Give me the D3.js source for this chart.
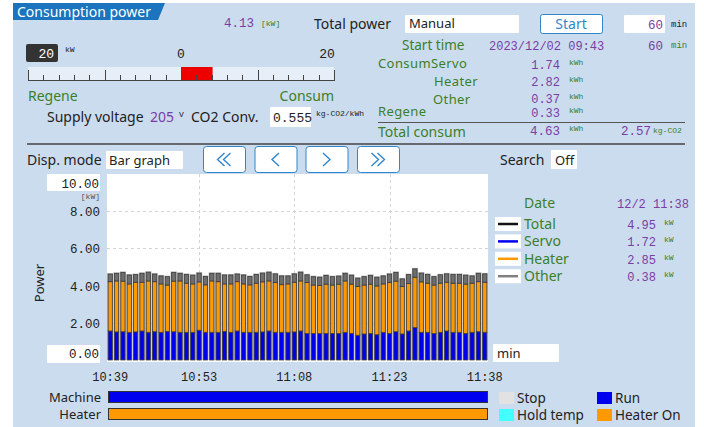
<!DOCTYPE html>
<html>
<head>
<meta charset="utf-8">
<script src="https://cdn.jsdelivr.net/npm/d3@7"></script>
<style>
	body { margin: 0; background: #fff; }
</style>
</head>
<body>
<script>
// per-minute power (kW), 10:39 .. 11:38
const servo = [
	1.56, 1.51, 1.52, 1.49, 1.51, 1.56, 1.49, 1.52, 1.49, 1.54,
	1.52, 1.49, 1.49, 1.49, 1.60, 1.49, 1.49, 1.49, 1.54, 1.49,
	1.56, 1.49, 1.49, 1.49, 1.51, 1.56, 1.49, 1.49, 1.49, 1.51,
	1.56, 1.43, 1.43, 1.42, 1.43, 1.43, 1.43, 1.49, 1.43, 1.33,
	1.40, 1.43, 1.36, 1.49, 1.43, 1.52, 1.40, 1.56, 1.74, 1.49,
	1.49, 1.43, 1.49, 1.56, 1.49, 1.49, 1.43, 1.49, 1.52, 1.49,
];
const heater = [
	2.65, 2.74, 2.72, 2.60, 2.67, 2.62, 2.76, 2.69, 2.60, 2.49,
	2.72, 2.76, 2.64, 2.60, 2.60, 2.55, 2.76, 2.72, 2.55, 2.60,
	2.65, 2.60, 2.55, 2.64, 2.69, 2.69, 2.67, 2.56, 2.60, 2.67,
	2.69, 2.74, 2.60, 2.58, 2.65, 2.60, 2.65, 2.76, 2.65, 2.62,
	2.63, 2.65, 2.62, 2.60, 2.74, 2.72, 2.55, 2.56, 2.71, 2.71,
	2.64, 2.60, 2.64, 2.62, 2.64, 2.64, 2.65, 2.64, 2.69, 2.69,
];
const other = [
	0.41, 0.41, 0.47, 0.48, 0.41, 0.48, 0.47, 0.41, 0.43, 0.45,
	0.47, 0.41, 0.47, 0.47, 0.47, 0.45, 0.41, 0.45, 0.48, 0.48,
	0.41, 0.48, 0.45, 0.47, 0.47, 0.47, 0.47, 0.47, 0.43, 0.45,
	0.47, 0.41, 0.45, 0.45, 0.47, 0.45, 0.43, 0.41, 0.48, 0.45,
	0.45, 0.47, 0.47, 0.43, 0.45, 0.47, 0.41, 0.47, 0.45, 0.47,
	0.47, 0.45, 0.45, 0.45, 0.47, 0.47, 0.48, 0.39, 0.45, 0.45,
];
const tickIndex = [0, 14, 29, 44, 59];
const yTicks = [2, 4, 6, 8];

const summaryLabels = ["ConsumServo", "Heater", "Other", "Regene"];
const summaryValues = ["1.74", "2.82", "0.37", "0.33"];
const legendNames = ["Total", "Servo", "Heater", "Other"];
const legendValues = ["4.95", "1.72", "2.85", "0.38"];
const gaugeValue = 4.13;

const colors = {
	panel: "#cbdcef",
	tab: "#1b74bd",
	green: "#3b7f27",
	purple: "#7a3ca4",
	text: "#222",
	btn: "#2f86cc",
	servo: "#0000ee",
	heater: "#ff9900",
	other: "#6e6e6e",
	total: "#111",
};
const SANS = "'Noto Sans', sans-serif";
const MONO = "'Liberation Mono', monospace";

const svg = d3.select("body").append("svg")
	.attr("width", 704)
	.attr("height", 427);

function label(x, y, str, o = {}) {
	return svg.append("text")
		.attr("x", x)
		.attr("y", y)
		.attr("text-anchor", o.anchor || "start")
		.attr("font-family", o.mono ? MONO : SANS)
		.attr("font-size", o.size || 14)
		.attr("fill", o.color || colors.text)
		.text(str);
}
function box(x, y, w, h, fill = "#fff", stroke = "none", rx = 1) {
	return svg.append("rect")
		.attr("x", x).attr("y", y).attr("width", w).attr("height", h)
		.attr("rx", rx)
		.attr("fill", fill)
		.attr("stroke", stroke);
}
const unit = (x, y, str, color = colors.green, size = 8) => label(x, y, str, { mono: true, size, color });

// panel + title tab
box(13, 3, 682, 424, colors.panel, "none", 0);
svg.append("path").attr("d", "M13,3 H165 L158,20 H13 Z").attr("fill", colors.tab);
label(17, 17, "Consumption power", { color: "#fff", size: 14 });

// top line
label(254, 27, "4.13", { mono: true, size: 12.5, color: colors.purple, anchor: "end" });
unit(261, 26, "[kW]");
label(314, 29, "Total power");
box(405, 15, 114, 18);
label(409, 28, "Manual", { size: 13 });
box(540.5, 14.5, 62, 19, "#fff", colors.btn, 2);
label(571, 29, "Start", { color: colors.btn, anchor: "middle" });
box(624, 15, 41, 18);
label(663, 29, "60", { mono: true, size: 12.5, color: colors.purple, anchor: "end" });
unit(671, 27, "min", colors.text, 9);

// start time block
label(402, 50, "Start time", { color: colors.green, size: 13.5 });
label(489, 50, "2023/12/02 09:43", { mono: true, size: 12, color: colors.purple });
label(663, 50, "60", { mono: true, size: 12.5, color: colors.purple, anchor: "end" });
unit(671, 48, "min", colors.green, 9);

const summaryX = [378, 434, 433, 378];
const summaryY = [68, 86, 104, 116];
const valueY = [69, 86, 103, 117];
summaryLabels.forEach((s, i) => {
	label(summaryX[i], summaryY[i], s, { color: colors.green, size: 13 })
		.attr("letter-spacing", 0.4);
	label(560, valueY[i], summaryValues[i], { mono: true, size: 12, color: colors.purple, anchor: "end" });
	unit(569, valueY[i] - 4, "kWh");
});
svg.append("line").attr("x1", 378).attr("x2", 685).attr("y1", 122.5).attr("y2", 122.5)
	.attr("stroke", "#555").attr("stroke-width", 1.2);
label(378, 137, "Total consum", { color: colors.green });
label(560, 135, "4.63", { mono: true, size: 12.5, color: colors.purple, anchor: "end" });
unit(569, 131, "kWh");
label(651, 135, "2.57", { mono: true, size: 12.5, color: colors.purple, anchor: "end" });
unit(653, 133, "kg-CO2");

// gauge
box(26, 44, 32, 18, "#333", "none", 2);
label(54, 58, "20", { mono: true, size: 13, color: "#fff", anchor: "end" });
unit(65, 52, "kW", colors.text);
const gx = d3.scaleLinear().domain([-20, 20]).range([28, 334]);
label(gx(0), 58, "0", { mono: true, size: 13, anchor: "middle" });
label(gx(20) - 7, 58, "20", { mono: true, size: 13, anchor: "middle" });
box(gx(-20), 67, gx(20) - gx(-20), 14, "#e6eef8", "none", 0);
svg.append("rect")
	.attr("x", gx(0)).attr("y", 67)
	.attr("width", gx(gaugeValue) - gx(0)).attr("height", 14)
	.attr("fill", "#ee0000");
svg.append("line").attr("x1", gx(-20)).attr("x2", gx(20)).attr("y1", 80.5).attr("y2", 80.5)
	.attr("stroke", "#444");
svg.append("g").selectAll("line")
	.data(d3.range(-20, 21, 2))
	.join("line")
	.attr("x1", (d) => Math.round(gx(d)) + 0.5)
	.attr("x2", (d) => Math.round(gx(d)) + 0.5)
	.attr("y1", (d) => (d % 10 === 0 ? 70 : 75))
	.attr("y2", 81)
	.attr("stroke", "#444");
label(28, 101, "Regene", { color: colors.green });
label(334, 101, "Consum", { color: colors.green, anchor: "end" });

label(47, 122, "Supply voltage");
label(150, 122, "205", { color: colors.purple });
unit(179, 117, "V", colors.text);
label(191, 122, "CO2 Conv.");
box(270, 107, 41, 20);
label(273, 122, "0.555", { mono: true, size: 13 });
unit(316, 116, "kg-CO2/kWh", colors.text);

svg.append("line").attr("x1", 27).attr("x2", 685).attr("y1", 144).attr("y2", 144)
	.attr("stroke", "#444").attr("stroke-width", 1.5);

// display mode + navigation
label(27, 165, "Disp. mode");
box(106, 151, 77, 18);
label(109, 165, "Bar graph", { size: 13 });
const navX = [203, 254.5, 305.5, 357];
const navDir = [-2, -1, 1, 2];
navX.forEach((x, i) => {
	box(x + 0.5, 146.5, 42, 26, "#fff", colors.btn, 3);
	const n = Math.abs(navDir[i]);
	const s = Math.sign(navDir[i]);
	const cx = x + 21;
	d3.range(n).forEach((k) => {
		const off = (k - (n - 1) / 2) * 6;
		const tip = cx + off + s * 3.5;
		const back = cx + off - s * 3.5;
		svg.append("path")
			.attr("d", `M${back},153 L${tip},159.5 L${back},166`)
			.attr("fill", "none").attr("stroke", colors.btn).attr("stroke-width", 1.4);
	});
});
label(500, 165, "Search");
box(551, 150, 26, 19);
label(555, 165, "Off", { size: 13 });

// chart
const x = d3.scaleBand().domain(d3.range(servo.length)).range([107, 488]).paddingInner(0.18).paddingOuter(0.1);
const y = d3.scaleLinear().domain([0, 10]).range([360, 174]);
const startTime = new Date(2023, 11, 2, 10, 39);
const fmt = d3.timeFormat("%H:%M");
const times = d3.range(servo.length).map((i) => d3.timeMinute.offset(startTime, i));

box(107, 174, 381, 188, "#fff", "none", 0);
svg.append("g").selectAll("line")
	.data(yTicks)
	.join("line")
	.attr("x1", 107).attr("x2", 488)
	.attr("y1", (d) => Math.round(y(d)) + 0.5).attr("y2", (d) => Math.round(y(d)) + 0.5)
	.attr("stroke", "#d4d4d4").attr("stroke-dasharray", "3,3");
svg.append("g").selectAll("line")
	.data(tickIndex.slice(1, -1))
	.join("line")
	.attr("x1", (d) => Math.round(x(d) + x.bandwidth() / 2) + 0.5)
	.attr("x2", (d) => Math.round(x(d) + x.bandwidth() / 2) + 0.5)
	.attr("y1", 174).attr("y2", 361)
	.attr("stroke", "#d4d4d4").attr("stroke-dasharray", "3,3");

const rows = servo.map((s, i) => ({ i, servo: s, heater: heater[i], other: other[i] }));
const stack = d3.stack().keys(["servo", "heater", "other"])(rows);
const fills = { servo: colors.servo, heater: colors.heater, other: colors.other };

svg.append("g").selectAll("rect")
	.data(rows)
	.join("rect")
	.attr("x", (d) => x(d.i) - 0.5)
	.attr("y", (d) => y(d.servo + d.heater + d.other) - 1)
	.attr("width", x.bandwidth() + 1)
	.attr("height", (d) => y(0) - y(d.servo + d.heater + d.other) + 1)
	.attr("fill", "#b8b8b8");

svg.append("g").selectAll("g")
	.data(stack)
	.join("g")
	.attr("fill", (d) => fills[d.key])
	.selectAll("rect")
	.data((d) => d)
	.join("rect")
	.attr("x", (d) => x(d.data.i) + 0.5)
	.attr("y", (d) => y(d[1]))
	.attr("width", x.bandwidth() - 1)
	.attr("height", (d) => y(d[0]) - y(d[1]))
	.attr("stroke", "#3c3c3c")
	.attr("stroke-width", 0.8);

// y labels
svg.append("g").selectAll("text")
	.data(yTicks)
	.join("text")
	.attr("x", 100).attr("y", (d) => y(d) + 5)
	.attr("text-anchor", "end")
	.attr("font-family", MONO).attr("font-size", 12.5).attr("fill", colors.text)
	.text((d) => d3.format(".2f")(d));
box(47, 174, 53, 17);
label(99, 188, "10.00", { mono: true, size: 12.5, anchor: "end" });
unit(100, 199, "[kW]", "#555").attr("text-anchor", "end");
box(47, 345, 53, 18);
label(99, 358, "0.00", { mono: true, size: 12.5, anchor: "end" });
label(0, 0, "Power", { size: 13 })
	.attr("transform", "translate(44,283) rotate(-90)")
	.attr("text-anchor", "middle");

// x labels
svg.append("g").selectAll("text")
	.data(tickIndex)
	.join("text")
	.attr("x", (d) => x(d) + x.bandwidth() / 2)
	.attr("y", 381)
	.attr("text-anchor", "middle")
	.attr("font-family", MONO).attr("font-size", 12).attr("fill", colors.text)
	.text((d) => fmt(times[d]));

box(493, 344, 66, 18);
label(497, 358, "min", { size: 13 });

// right legend
label(524, 208, "Date", { color: colors.green });
label(689, 208, "12/2 11:38", { mono: true, size: 12, color: colors.purple, anchor: "end" });
const legendColors = [colors.total, colors.servo, colors.heater, "#808080"];
legendNames.forEach((name, i) => {
	const cy = 224 + i * 17.4;
	box(495, cy - 7, 26, 14, "#fff", "none", 0);
	svg.append("line").attr("x1", 498).attr("x2", 518).attr("y1", cy).attr("y2", cy)
		.attr("stroke", legendColors[i]).attr("stroke-width", 2.5);
	label(524, cy + 5, name, { color: colors.green });
	label(656, cy + 5, legendValues[i], { mono: true, size: 12, color: colors.purple, anchor: "end" });
	unit(664, cy + 1, "kW");
});

// status bars
label(101, 402, "Machine", { anchor: "end", size: 13 });
label(101, 419, "Heater", { anchor: "end", size: 13 });
box(108.5, 391.5, 379, 11, colors.servo, "#333", 0);
box(108.5, 408.5, 379, 11, colors.heater, "#333", 0);

const statusNames = ["Stop", "Run", "Hold temp", "Heater On"];
const statusColors = ["#e2e2e2", colors.servo, "#44ffff", colors.heater];
statusNames.forEach((s, i) => {
	const sx = i % 2 === 0 ? 499 : 597;
	const sy = i < 2 ? 392 : 409;
	box(sx, sy, 15, 12, statusColors[i], "none", 0);
	label(sx + 18, sy + 11, s, { size: 13.5 });
});
</script>
</body>
</html>
